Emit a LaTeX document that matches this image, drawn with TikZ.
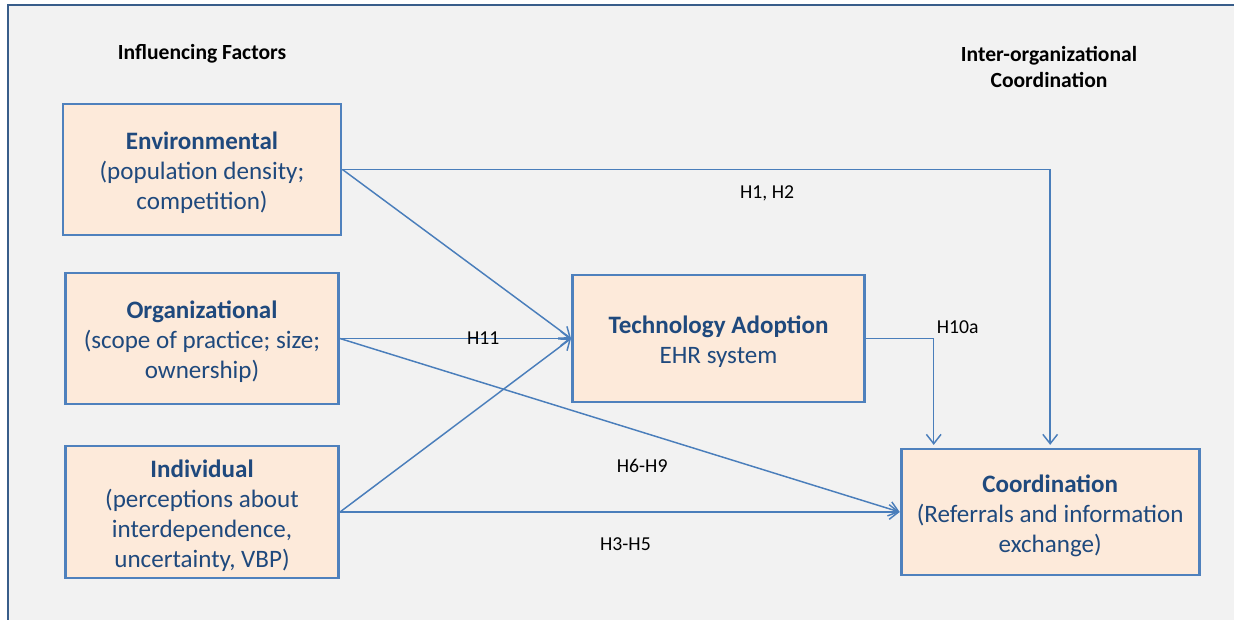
\documentclass[tikz,border=0pt]{standalone}
\usepackage{fontspec}
\setmainfont{Carlito}
\usetikzlibrary{arrows.meta, positioning}
\definecolor{canvas}{RGB}{242, 242, 242}
\definecolor{frameblue}{RGB}{56, 93, 138}
\definecolor{boxborder}{RGB}{79, 129, 189}
\definecolor{boxfill}{RGB}{253, 234, 218}
\definecolor{boxtext}{RGB}{31, 73, 125}
\definecolor{linkblue}{RGB}{74, 126, 187}
% bold first line of a block, with a strut to sit it a little lower
\newcommand{\blocktitle}[1]{\rule{0pt}{18.5pt}\textbf{#1}}
\tikzset{
  font=\fontsize{18.8}{22.5}\selectfont,
  factorblock/.style={
    rectangle, draw=boxborder, fill=boxfill, line width=2.2pt,
    text=boxtext, align=center, inner sep=0pt,
    minimum width=204.75pt, minimum height=98.25pt
  },
  header/.style={font=\fontsize{16.2}{19.5}\selectfont\bfseries, align=center},
  hlabel/.style={font=\fontsize{14.8}{17}\selectfont},
  linkline/.style={
    draw=linkblue, line width=1.1pt, -{Straight Barb[length=7pt, width=11pt]}
  }
}

\begin{document}
\begin{tikzpicture}[x=0.75pt, y=-0.75pt]
  \useasboundingbox (0,0) rectangle (1234,619);
  % frame of the slide
  \draw[frameblue, line width=2.2pt, fill=canvas] (8,5) rectangle (1260,650);

  \node[header] (factors) at (202,54) {Influencing Factors};
  \node[header] (interorg) at (1049,67) {Inter-organizational\\Coordination};

  \node[factorblock, minimum width=208.5pt] (env) at (202,169.5) {
    \blocktitle{Environmental}\\
    (population density;\\
    competition)
  };

  \node[factorblock, below=26.3pt of env] (org) {
    \blocktitle{Organizational}\\
    (scope of practice; size;\\
    ownership)
  };

  \node[factorblock, below=29.3pt of org, minimum height=99pt] (indiv) {
    \blocktitle{Individual}\\
    (perceptions about\\
    interdependence,\\
    uncertainty, VBP)
  };

  \node[factorblock, right=173.3pt of org, minimum width=219pt, minimum height=95.25pt] (tech) {
    \blocktitle{Technology Adoption}\\
    EHR system
  };

  \node[factorblock, right=419.8pt of indiv, minimum width=223.5pt, minimum height=94.5pt] (coord) {
    \blocktitle{Coordination}\\
    (Referrals and information\\
    exchange)
  };

  \draw[linkline, shorten >=2pt] (env.east) -| node[hlabel, pos=0.3, yshift=-18pt] {H1, H2} (coord.north);
  \draw[linkline] (env.east) -- (tech.west);
  \draw[linkline] (org.east) -- node[hlabel, pos=0.62] {H11} (tech.west);
  \draw[linkline] (org.east) -- node[hlabel, pos=0.54, yshift=-25pt] {H6-H9} (coord.west);
  \draw[linkline] (indiv.east) -- (tech.west);
  \draw[linkline] (indiv.east) -- node[hlabel, pos=0.51, yshift=-24pt] {H3-H5} (coord.west);
  \draw[linkline, shorten >=2pt] (tech.east) -| node[hlabel, pos=0.5, xshift=18pt, yshift=8.6pt] {H10a} ([xshift=25.5pt]coord.north west);
\end{tikzpicture}
\end{document}
